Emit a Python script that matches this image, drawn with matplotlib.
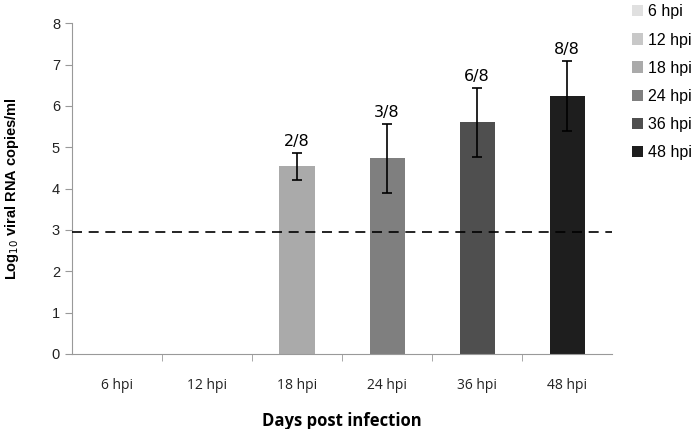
import numpy as np
import matplotlib.pyplot as plt

categories = ["6 hpi", "12 hpi", "18 hpi", "24 hpi", "36 hpi", "48 hpi"]
means = [0, 0, 4.55, 4.75, 5.6, 6.25]
err_low = [0, 0, 0.35, 0.85, 0.83, 0.86]
err_high = [0, 0, 0.30, 0.80, 0.82, 0.84]
positives = ["", "", "2/8", "3/8", "6/8", "8/8"]
colors = ["#e0e0e0", "#c8c8c8", "#aaaaaa", "#7f7f7f", "#4f4f4f", "#1e1e1e"]
cutoff = 2.95

fig = plt.figure(figsize=(6.91, 4.29), dpi=100)
ax = fig.add_axes([0.104, 0.175, 0.782, 0.771])

x = np.arange(len(categories))
for i in range(len(categories)):
    ax.bar(x[i], means[i], width=0.39, color=colors[i], label=categories[i],
           linewidth=0, zorder=2)
    if means[i] > 0:
        ax.errorbar(x[i], means[i], yerr=[[err_low[i]], [err_high[i]]], fmt="none",
                    ecolor="black", elinewidth=1.2, capsize=3.5, capthick=1.2, zorder=3)
        ax.text(x[i], means[i] + err_high[i] + 0.1, positives[i], ha="center", va="bottom",
                fontsize=11.5, family="Liberation Sans Narrow")

ax.axhline(cutoff, color="black", linestyle=(0, (6, 4)), linewidth=1.2, zorder=4)

ax.set_xlim(-0.5, len(categories) - 0.5)
ax.set_ylim(0, 8)
ax.set_yticks(range(0, 9))
ax.set_xticks(x)
ax.set_xticklabels(categories, family="Open Sans", fontsize=10, color="#222222")
ax.set_xticks(np.arange(0.5, len(categories) - 0.5, 1), minor=True)
ax.tick_params(axis="x", which="major", length=0, pad=17)
ax.tick_params(axis="x", which="minor", length=5, color="#999999")
ax.tick_params(axis="y", length=5, color="#999999", labelsize=10.5, labelcolor="#222222")
for lab in ax.get_yticklabels():
    lab.set_family("Liberation Sans")

for s in ["top", "right"]:
    ax.spines[s].set_visible(False)
for s in ["left", "bottom"]:
    ax.spines[s].set_color("#999999")

ax.set_ylabel(r"Log$_{10}$ viral RNA copies/ml", fontsize=10.5, fontweight="bold",
              family="Liberation Sans", labelpad=22)
ax.set_xlabel("Days post infection", fontsize=12, fontweight="bold",
              family="Open Sans", labelpad=14)

ax.legend(loc="upper left", bbox_to_anchor=(1.01, 1.1), frameon=False,
          handlelength=0.7, handleheight=0.7, handletextpad=0.3, labelspacing=0.82,
          prop={"family": "Liberation Sans", "size": 11.5})

fig.savefig("out.png", dpi=100)
